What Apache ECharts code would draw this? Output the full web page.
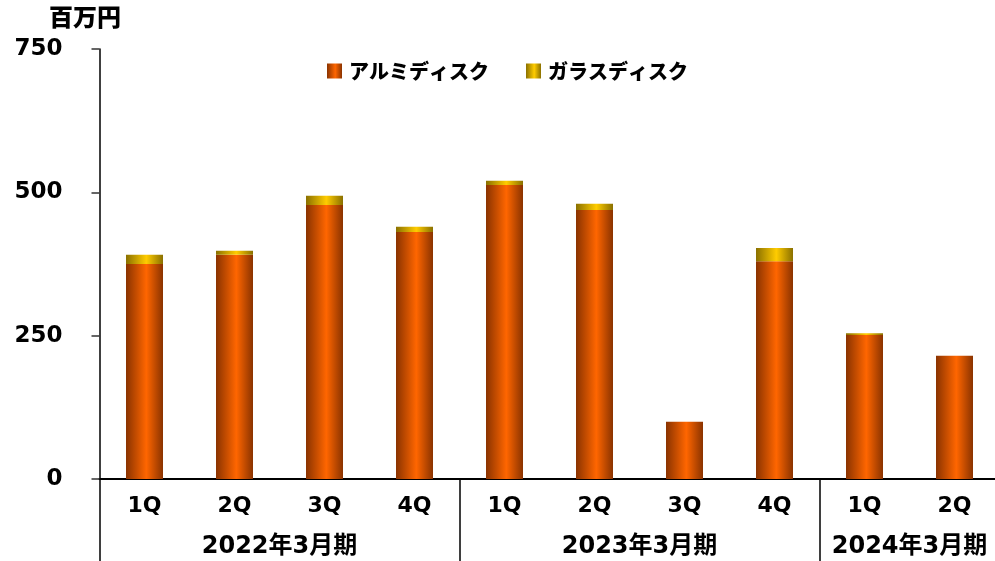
<!DOCTYPE html>
<html>
<head>
<meta charset="utf-8">
<script src="https://cdn.jsdelivr.net/npm/echarts@6/dist/echarts.min.js"></script>
<style>
  html, body { margin: 0; padding: 0; background: #fff; }
  #chart { width: 995px; height: 561px; }
</style>
</head>
<body>
<div id="chart"></div>
<script>
// Quarterly sales by product (million yen)
const quarters = ['1Q', '2Q', '3Q', '4Q', '1Q', '2Q', '3Q', '4Q', '1Q', '2Q'];
const fiscalYears = ['2022年3月期', '2023年3月期', '2024年3月期'];
const fiscalYearCenters = [2, 6, 9];        // centre of each fiscal-year span on the 0..10 scale
const fiscalYearBoundaries = [0, 4, 8];     // quarter index where each fiscal year starts
const aluminum = [375, 391, 478, 431, 513, 469, 100, 380, 251, 215];
const glass = [16, 7, 16, 9, 7, 11, 0, 23, 3, 0];
const seriesNames = ['アルミディスク', 'ガラスディスク'];
const yTicks = { min: 0, max: 750, step: 250 };
const unitLabel = '百万円';

const latinFont = '"DejaVu Sans", "Noto Sans CJK JP", sans-serif';
const cjkFont = '"Noto Sans CJK JP", "DejaVu Sans", sans-serif';

function cylinder(edge, mid) {
  return new echarts.graphic.LinearGradient(0, 0, 1, 0, [
    { offset: 0, color: edge },
    { offset: 0.55, color: mid },
    { offset: 1, color: edge }
  ]);
}

const chart = echarts.init(document.getElementById('chart'), null, { renderer: 'canvas' });

chart.setOption({
  animation: false,
  backgroundColor: '#ffffff',
  title: {
    text: unitLabel,
    left: 49,
    top: 5,
    padding: 0,
    textStyle: { fontFamily: cjkFont, fontWeight: 900, fontSize: 24, color: '#000' }
  },
  legend: {
    data: seriesNames,
    left: 327,
    top: 61,
    padding: 0,
    icon: 'rect',
    itemWidth: 15,
    itemHeight: 15,
    itemGap: 37,
    textStyle: { fontFamily: cjkFont, fontWeight: 900, fontSize: 20, color: '#000', padding: [0, 0, 0, 2] }
  },
  grid: { left: 99.5, top: 49, width: 900, bottom: 82, containLabel: false, outerBoundsMode: 'none' },
  xAxis: [
    {
      type: 'category',
      data: quarters,
      position: 'bottom',
      axisLine: { show: true, lineStyle: { color: '#000', width: 2 } },
      axisTick: {
        show: true,
        length: 82,
        interval: function (index) { return fiscalYearBoundaries.indexOf(index) !== -1; },
        lineStyle: { color: '#000', width: 1.5 }
      },
      axisLabel: {
        margin: 16,
        interval: 0,
        fontFamily: latinFont, fontWeight: 'bold', fontSize: 22, color: '#000'
      },
      splitLine: { show: false }
    },
    {
      type: 'value',
      min: 0,
      max: 10,
      interval: 1,
      position: 'bottom',
      axisLine: { show: false },
      axisTick: { show: false },
      splitLine: { show: false },
      axisLabel: {
        margin: 56,
        fontFamily: latinFont, fontWeight: 'bold', fontSize: 24, color: '#000',
        formatter: function (v) {
          const i = fiscalYearCenters.indexOf(v);
          return i === -1 ? '' : fiscalYears[i];
        }
      }
    }
  ],
  yAxis: {
    type: 'value',
    min: yTicks.min,
    max: yTicks.max,
    interval: yTicks.step,
    axisLine: { show: true, lineStyle: { color: '#000', width: 1.5 } },
    axisTick: { show: true, length: 8, lineStyle: { color: '#333', width: 1.5 } },
    splitLine: { show: false },
    axisLabel: { margin: 37, fontFamily: latinFont, fontWeight: 'bold', fontSize: 23, color: '#000' }
  },
  series: [
    {
      name: seriesNames[0],
      type: 'bar',
      stack: 'total',
      barWidth: 37,
      data: aluminum,
      itemStyle: { color: cylinder('#8a3300', '#ff6600') }
    },
    {
      name: seriesNames[1],
      type: 'bar',
      stack: 'total',
      barWidth: 37,
      data: glass,
      itemStyle: { color: cylinder('#8a7000', '#ffcc00') }
    }
  ]
});
</script>
</body>
</html>
